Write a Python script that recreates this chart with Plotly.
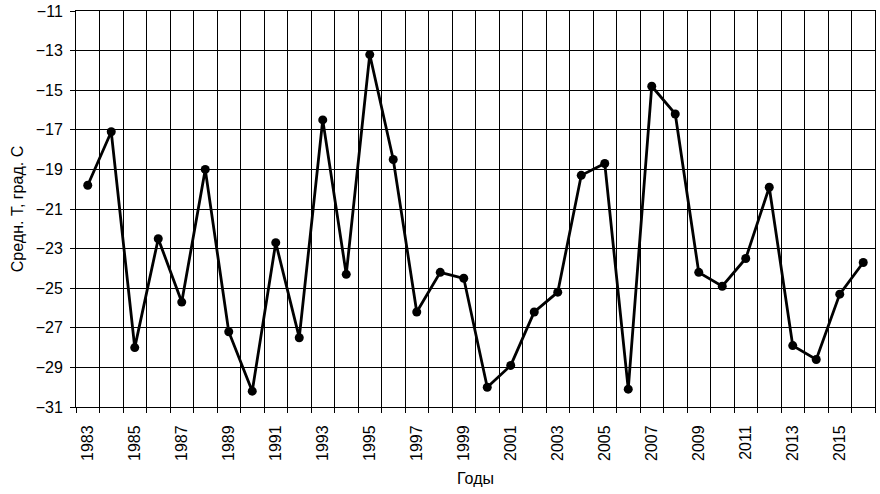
import plotly.graph_objects as go

years = list(range(1983, 2017))
temps = [-19.8, -17.1, -28.0, -22.5, -25.7, -19.0, -27.2, -30.2, -22.7, -27.5,
         -16.5, -24.3, -13.2, -18.5, -26.2, -24.2, -24.5, -30.0, -28.9, -26.2,
         -25.2, -19.3, -18.7, -30.1, -14.8, -16.2, -24.2, -24.9, -23.5, -19.9,
         -27.9, -28.6, -25.3, -23.7]
y_ticks = list(range(-31, -10, 2))
x_ticks = list(range(1983, 2017, 2))

fig = go.Figure()
fig.add_trace(go.Scatter(
    x=years, y=temps, mode="lines+markers",
    line=dict(color="black", width=2.8),
    marker=dict(color="black", size=9, symbol="circle"),
    showlegend=False, cliponaxis=False,
))

font = dict(family="Liberation Sans, Arial, sans-serif", size=16, color="black")

fig.update_layout(
    width=880, height=494,
    margin=dict(l=76, r=5, t=11, b=87, autoexpand=False),
    paper_bgcolor="white", plot_bgcolor="white",
    font=font,
    xaxis=dict(
        range=[1982.5, 2016.5], automargin=False,
        tickmode="array", tickvals=x_ticks, ticktext=[str(v) for v in x_ticks],
        tickangle=-90, showgrid=False, ticks="", ticklabelstandoff=11,
        showline=True, linecolor="black", linewidth=1, mirror=True,
        zeroline=False,
        minor=dict(tick0=1982.5, dtick=1, showgrid=True, gridcolor="black",
                   gridwidth=1, ticks="outside", ticklen=5, tickcolor="black"),
        title=dict(text="Годы", font=font, standoff=12),
        tickfont=font,
    ),
    yaxis=dict(
        range=[-31, -11], automargin=False,
        tickmode="array", tickvals=y_ticks,
        ticktext=[str(v).replace("-", "\u2212") for v in y_ticks],
        showgrid=True, gridcolor="black", gridwidth=1,
        ticks="outside", ticklen=5, tickcolor="black", ticklabelstandoff=4,
        showline=True, linecolor="black", linewidth=1, mirror=True,
        zeroline=False,
        title=dict(text="Средн. Т, град. С", font=font, standoff=8),
        tickfont=font,
    ),
)

fig.write_html("out.html", config={"displayModeBar": False},
               post_script="document.body.style.margin='0';")
